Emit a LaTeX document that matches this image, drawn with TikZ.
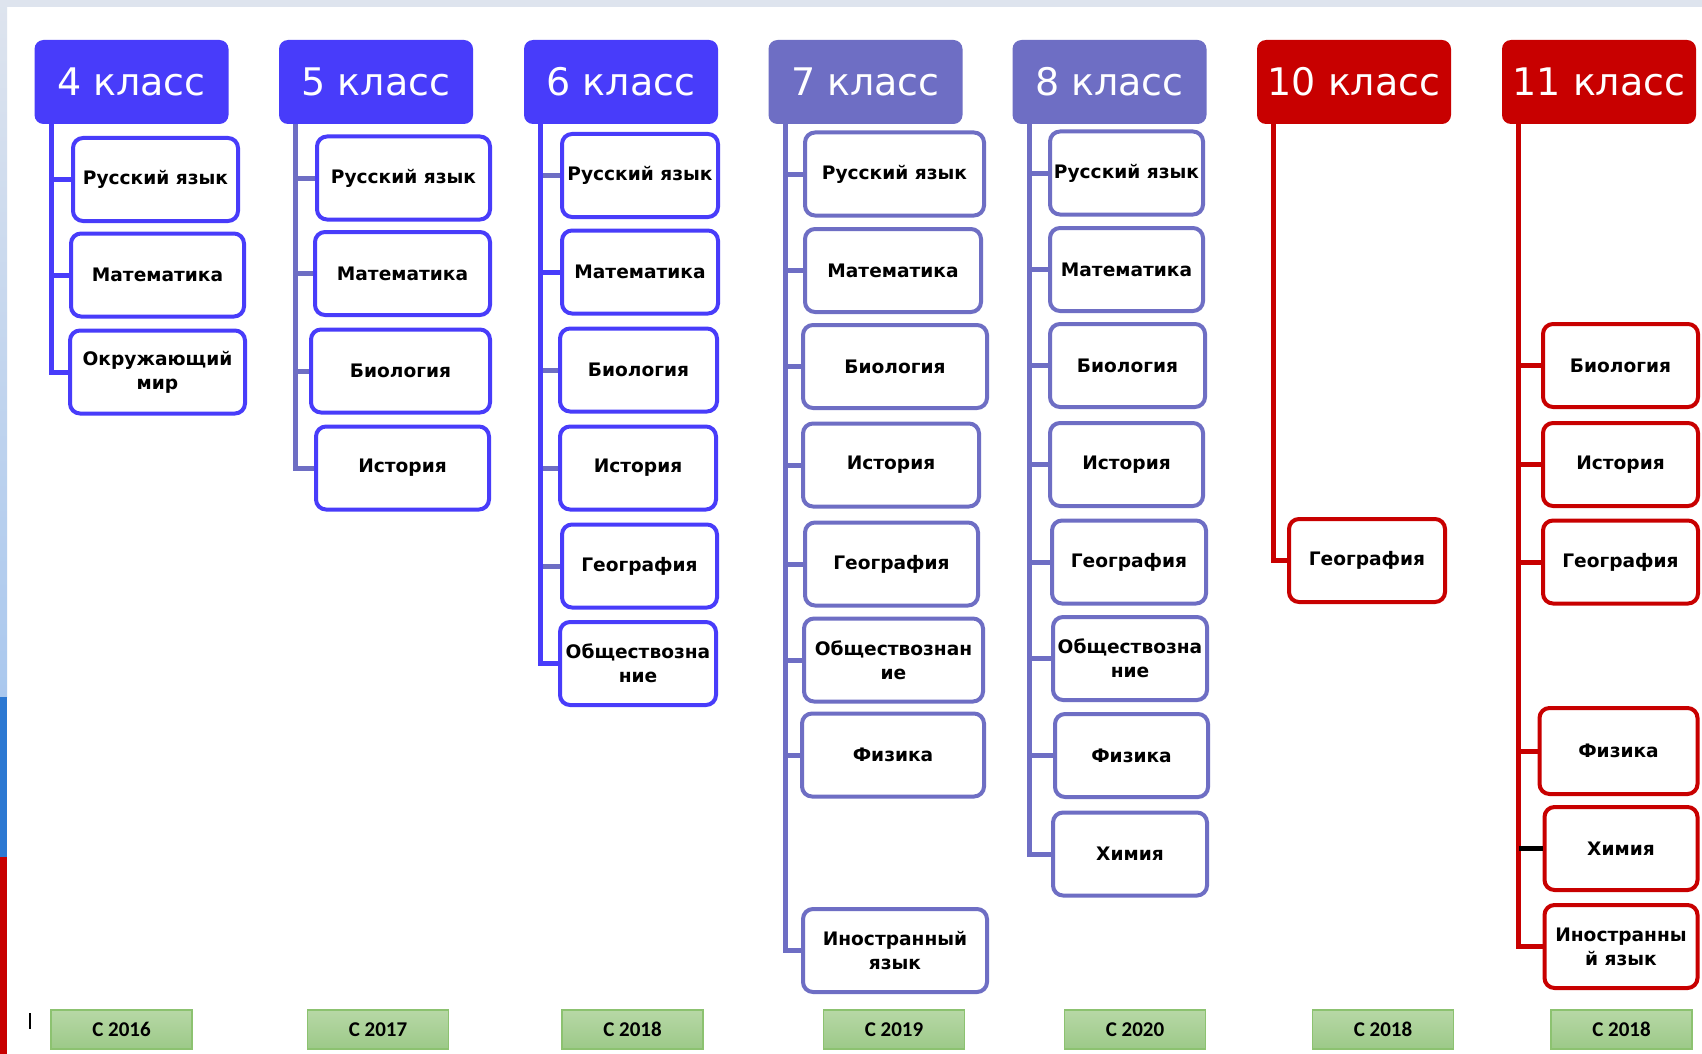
\documentclass[tikz,border=0pt]{standalone}
\usepackage{fontspec}
\setmainfont{DejaVu Sans}
\newfontfamily\yearfont{Carlito}
\definecolor{kblue}{RGB}{72,60,250}
\definecolor{kpurple}{RGB}{110,110,196}
\definecolor{kred}{RGB}{200,0,0}
\definecolor{ytop}{RGB}{183,216,166}
\definecolor{ybot}{RGB}{156,201,136}
\definecolor{yedge}{RGB}{140,194,112}
\definecolor{strip}{RGB}{222,228,238}
\definecolor{stripsky}{RGB}{170,200,238}
\definecolor{stripblue}{RGB}{44,120,210}
\begin{document}
\begin{tikzpicture}[x=1pt, y=-1pt,
		grade/.style={rounded corners=9pt, minimum width=194pt, minimum height=84pt,
			inner sep=0pt, text=white, font=\fontsize{38}{40}\selectfont},
		subj/.style={draw, line width=4pt, rounded corners=10pt, fill=white,
			minimum height=83pt, inner sep=0pt, align=center,
			font=\fontsize{18.6}{24}\selectfont\bfseries},
		sb/.style={subj, draw=kblue},
		sp/.style={subj, draw=kpurple},
		sr/.style={subj, draw=kred},
		stem/.style={line width=5pt},
		year/.style={draw=yedge, line width=1.5pt, top color=ytop, bottom color=ybot,
			minimum width=141pt, minimum height=39pt, inner sep=0pt,
			font=\yearfont\bfseries\fontsize{21}{21}\selectfont}
		]
	\useasboundingbox (0,0) rectangle (1702,1054);
	\fill[white] (0,0) rectangle (1702,1054);
	\fill[strip] (0,0) rectangle (1702,7);
	\shade[top color=strip, bottom color=stripsky] (0,0) rectangle (7,697);
	\fill[stripblue] (0,697) rectangle (7,857);
	\fill[kred] (0,857) rectangle (7,1054);

	\node[grade, fill=kblue] (g4) at (131.5,82) {4 класс};
	\node[grade, fill=kblue] (g5) at (376,82) {5 класс};
	\node[grade, fill=kblue] (g6) at (621,82) {6 класс};
	\node[grade, fill=kpurple] (g7) at (865.5,82) {7 класс};
	\node[grade, fill=kpurple] (g8) at (1109.5,82) {8 класс};
	\node[grade, fill=kred] (g10) at (1354,82) {10 класс};
	\node[grade, fill=kred] (g11) at (1599,82) {11 класс};

	\node[sb, minimum width=165pt] (g4a) at (155.5,179.5) {Русский язык};
	\node[sb, minimum width=173pt] (g4b) at (157.5,275) {Математика};
	\node[sb, minimum width=175pt] (g4c) at (157.5,372) {Окружающий\\мир};

	\node[sb, minimum width=173pt] (g5a) at (403.5,178) {Русский язык};
	\node[sb, minimum width=175pt] (g5b) at (402.5,273.5) {Математика};
	\node[sb, minimum width=179pt] (g5c) at (400.5,371) {Биология};
	\node[sb, minimum width=173pt] (g5d) at (402.5,468) {История};

	\node[sb, minimum width=156pt] (g6a) at (640,175.5) {Русский язык};
	\node[sb, minimum width=156pt] (g6b) at (640,272) {Математика};
	\node[sb, minimum width=157pt] (g6c) at (638.5,370) {Биология};
	\node[sb, minimum width=156pt] (g6d) at (638,468) {История};
	\node[sb, minimum width=155pt] (g6e) at (639.5,566) {География};
	\node[sb, minimum width=156pt] (g6f) at (638,663.5) {Обществозна\\ние};

	\node[sp, minimum width=179pt] (g7a) at (894.5,174) {Русский язык};
	\node[sp, minimum width=176pt] (g7b) at (893,270.5) {Математика};
	\node[sp, minimum width=184pt] (g7c) at (895,366.5) {Биология};
	\node[sp, minimum width=176pt] (g7d) at (891,465) {История};
	\node[sp, minimum width=173pt] (g7e) at (891.5,564) {География};
	\node[sp, minimum width=179pt] (g7f) at (893.5,660) {Обществознан\\ие};
	\node[sp, minimum width=182pt] (g7g) at (893,755) {Физика};
	\node[sp, minimum width=184pt] (g7h) at (895,950.5) {Иностранный\\язык};

	\node[sp, minimum width=153pt] (g8a) at (1126.5,173) {Русский язык};
	\node[sp, minimum width=153pt] (g8b) at (1126.5,269.5) {Математика};
	\node[sp, minimum width=155pt] (g8c) at (1127.5,365.5) {Биология};
	\node[sp, minimum width=153pt] (g8d) at (1126.5,464.5) {История};
	\node[sp, minimum width=154pt] (g8e) at (1129,562) {География};
	\node[sp, minimum width=154pt] (g8f) at (1130,658.5) {Обществозна\\ние};
	\node[sp, minimum width=153pt] (g8g) at (1131.5,755.5) {Физика};
	\node[sp, minimum width=154pt] (g8h) at (1130,854) {Химия};

	\node[sr, minimum width=156pt] (g10a) at (1367,560.5) {География};

	\node[sr, minimum width=155pt] (g11a) at (1620.5,365.5) {Биология};
	\node[sr, minimum width=155pt] (g11b) at (1620.5,464.5) {История};
	\node[sr, minimum width=155pt] (g11c) at (1620.5,562) {География};
	\node[sr, minimum width=158pt, minimum height=86pt] (g11d) at (1618.5,751) {Физика};
	\node[sr, minimum width=153pt] (g11e) at (1621,848.5) {Химия};
	\node[sr, minimum width=153pt] (g11f) at (1621,946.5) {Иностранны\\й язык};

	\draw[stem, kblue] ([xshift=17pt]g4.south west) coordinate (t4)
		|- (g4c.west) (t4) |- (g4a.west) (t4) |- (g4b.west);
	\draw[stem, kpurple] ([xshift=17pt]g5.south west) coordinate (t5)
		|- (g5d.west) (t5) |- (g5a.west) (t5) |- (g5b.west) (t5) |- (g5c.west);
	\draw[stem, kblue] ([xshift=17pt]g6.south west) coordinate (t6)
		|- (g6f.west) (t6) |- (g6b.west);
	\draw[stem, kpurple] (t6) |- (g6a.west) (t6) |- (g6c.west)
		(t6) |- (g6d.west) (t6) |- (g6e.west);
	\draw[stem, kblue] (t6) -- (t6 |- g6f.west);
	\draw[stem, kpurple] ([xshift=17pt]g7.south west) coordinate (t7)
		|- (g7h.west) (t7) |- (g7a.west) (t7) |- (g7b.west) (t7) |- (g7c.west)
		(t7) |- (g7d.west) (t7) |- (g7e.west) (t7) |- (g7f.west) (t7) |- (g7g.west);
	\draw[stem, kpurple] ([xshift=17pt]g8.south west) coordinate (t8)
		|- (g8h.west) (t8) |- (g8a.west) (t8) |- (g8b.west) (t8) |- (g8c.west)
		(t8) |- (g8d.west) (t8) |- (g8e.west) (t8) |- (g8f.west) (t8) |- (g8g.west);
	\draw[stem, kred] ([xshift=17pt]g10.south west) coordinate (t10) |- (g10a.west);
	\draw[stem, kred] ([xshift=17pt]g11.south west) coordinate (t11)
		|- (g11f.west) (t11) |- (g11a.west) (t11) |- (g11b.west)
		(t11) |- (g11c.west) (t11) |- (g11d.west);
	\draw[stem, black] (t11 |- g11e.west) -- (g11e.west);

	\node[year] (y4) at (121.5,1029.5) {С 2016};
	\node[year] (y5) at (378,1029.5) {С 2017};
	\node[year] (y6) at (632.5,1029.5) {С 2018};
	\node[year] (y7) at (894,1029.5) {С 2019};
	\node[year] (y8) at (1135,1029.5) {С 2020};
	\node[year] (y10) at (1383,1029.5) {С 2018};
	\node[year] (y11) at (1621.5,1029.5) {С 2018};
	\draw[line width=1.5pt] (30,1013) -- (30,1029);
\end{tikzpicture}
\end{document}
